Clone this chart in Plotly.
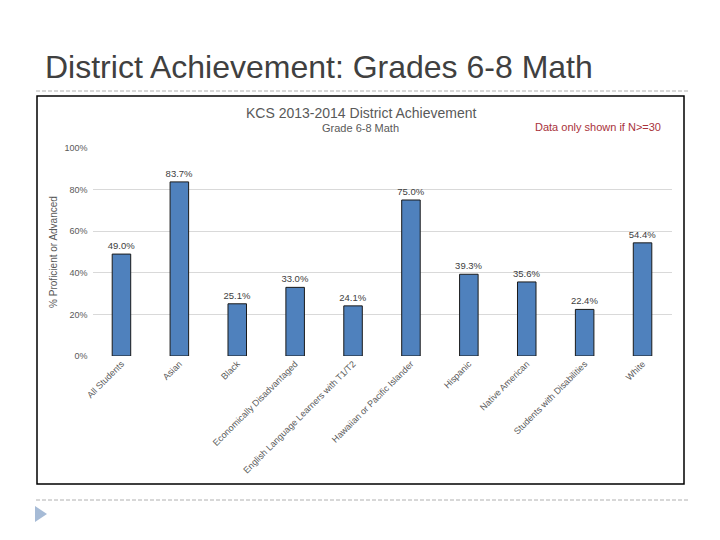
import plotly.graph_objects as go

categories = ["All Students", "Asian", "Black", "Economically Disadvantaged",
              "English Language Learners with T1/T2", "Hawaiian or Pacific Islander",
              "Hispanic", "Native American", "Students with Disabilities", "White"]
values = [49.0, 83.7, 25.1, 33.0, 24.1, 75.0, 39.3, 35.6, 22.4, 54.4]
y_ticks = [0, 20, 40, 60, 80, 100]
y_tick_labels = ["0%", "20%", "40%", "60%", "80%", "100%"]

W, H = 720, 540
def px(x): return x / W
def py(y): return 1 - y / H

font_family = "Liberation Sans, Arial, sans-serif"

fig = go.Figure()
fig.add_trace(go.Bar(
    x=categories, y=values,
    marker=dict(color="#4F81BD", line=dict(color="#1a1a1a", width=1)),
    text=[f"{v:.1f}%" for v in values],
    textposition="outside",
    constraintext="none",
    textfont=dict(size=9.5, color="#404040", family=font_family),
    cliponaxis=False,
    width=0.32,
    hoverinfo="skip",
))

fig.update_layout(
    width=W, height=H,
    margin=dict(l=0, r=0, t=0, b=0),
    paper_bgcolor="white", plot_bgcolor="white",
    showlegend=False,
    font=dict(family=font_family),
    xaxis=dict(
        domain=[px(92.5), px(671.5)],
        tickangle=-45,
        tickfont=dict(size=9, color="#595959"),
        showgrid=False, showline=False, ticks="",
        automargin=False,
    ),
    yaxis=dict(
        domain=[py(356), py(148)],
        range=[0, 100],
        tickvals=y_ticks, ticktext=y_tick_labels,
        tickfont=dict(size=9, color="#595959"),
        ticklabelstandoff=4,
        showgrid=True, gridcolor="#D9D9D9", gridwidth=1,
        zeroline=False, showline=False, ticks="",
        automargin=False,
        title=dict(text="% Proficient or Advanced",
                   font=dict(size=10, color="#595959"), standoff=4),
    ),
    shapes=[
        dict(type="line", xref="paper", yref="paper", x0=px(36), x1=px(688), y0=py(91), y1=py(91),
             line=dict(color="#B0B0B0", width=1, dash="4px,2px")),
        dict(type="line", xref="paper", yref="paper", x0=px(36), x1=px(688), y0=py(500), y1=py(500),
             line=dict(color="#B0B0B0", width=1, dash="4px,2px")),
        dict(type="rect", xref="paper", yref="paper", x0=px(37), x1=px(684), y0=py(484), y1=py(96),
             line=dict(color="#000000", width=1.5), fillcolor="rgba(0,0,0,0)", layer="below"),
        dict(type="path", xref="paper", yref="paper",
             path=f"M {px(35)},{py(506)} L {px(47)},{py(514)} L {px(35)},{py(522)} Z",
             fillcolor="#A6BBD6", line=dict(width=0)),
    ],
    annotations=[
        dict(text="District Achievement: Grades 6-8 Math", xref="paper", yref="paper",
             x=px(43), y=py(67), xanchor="left", yanchor="middle", showarrow=False,
             font=dict(size=32, color="#404040", family=font_family)),
        dict(text="KCS 2013-2014 District Achievement", xref="paper", yref="paper",
             x=px(361), y=py(113), xanchor="center", yanchor="middle", showarrow=False,
             font=dict(size=14, color="#595959", family=font_family)),
        dict(text="Grade 6-8 Math", xref="paper", yref="paper",
             x=px(360), y=py(128), xanchor="center", yanchor="middle", showarrow=False,
             font=dict(size=11, color="#595959", family=font_family)),
        dict(text="Data only shown if N>=30", xref="paper", yref="paper",
             x=px(663), y=py(127), xanchor="right", yanchor="middle", showarrow=False,
             font=dict(size=11, color="#A8323A", family=font_family)),
    ],
)

fig.write_html("out.html", config={"displayModeBar": False},
               post_script="document.body.style.margin='0';document.body.style.overflow='hidden';")
